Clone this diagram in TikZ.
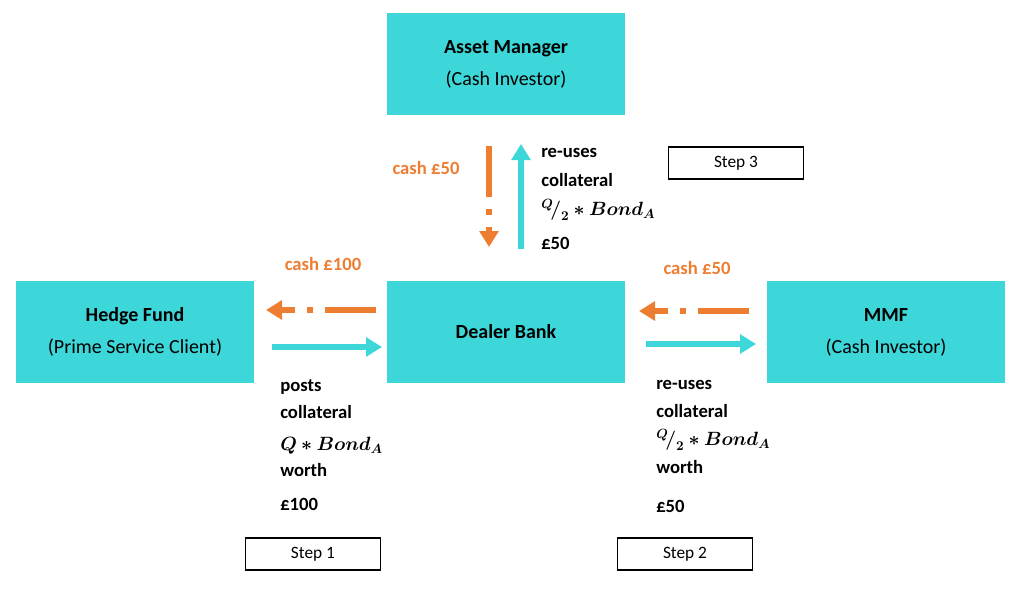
\documentclass[tikz,border=0pt]{standalone}
\usepackage{fontspec}
\setmainfont{Carlito}
\usepackage{amsmath,bm}
\usetikzlibrary{arrows.meta}
\definecolor{cyanbox}{HTML}{3DD6D9}
\definecolor{orng}{HTML}{ED7D31}
\tikzset{
box/.style={fill=cyanbox,minimum width=179pt,minimum height=77pt,align=center,font=\fontsize{15}{24}\selectfont},
stepbox/.style={draw,line width=0.9pt,minimum width=101pt,minimum height=24pt,font=\fontsize{13}{15}\selectfont},
lbl/.style={anchor=west,inner sep=0pt,font=\bfseries\fontsize{14}{16}\selectfont},
cash/.style={inner sep=0pt,text=orng,font=\bfseries\fontsize{14}{16}\selectfont},
pay/.style={draw=orng,line width=5pt,dash pattern=on 38pt off 9pt on 5pt off 9pt,-{Triangle[width=14pt,length=12pt]}},
give/.style={draw=cyanbox,line width=5pt,-{Triangle[width=14pt,length=12pt]}}}

\begin{document}
\begin{tikzpicture}[x=0.75pt,y=-0.75pt]
\useasboundingbox (0,0) rectangle (1024,589);
\node[box] (am) at (506,64) {\textbf{Asset Manager}\\(Cash Investor)};
\node[box] (hf) at (135,332) {\textbf{Hedge Fund}\\(Prime Service Client)};
\node[box] (db) at (506,332) {\textbf{Dealer Bank}};
\node[box] (mmf) at (886,332) {\textbf{MMF}\\(Cash Investor)};
\node[stepbox] (s3) at (736,163) {Step 3};
\node[stepbox] (s1) at (313,554) {Step 1};
\node[stepbox] (s2) at (685,554) {Step 2};
% arrows
\coordinate (a1) at (489,146); \coordinate (a2) at (489,247);
\coordinate (b1) at (521,249); \coordinate (b2) at (521,144);
\coordinate (c1) at (376,310); \coordinate (c2) at (266,310);
\coordinate (d1) at (272,347); \coordinate (d2) at (382,347);
\coordinate (e1) at (749,311); \coordinate (e2) at (639,311);
\coordinate (f1) at (646,344); \coordinate (f2) at (756,344);
\draw[pay] (a1) -- (a2);
\draw[give] (b1) -- (b2);
\draw[pay] (c1) -- (c2);
\draw[give] (d1) -- (d2);
\draw[pay] (e1) -- (e2);
\draw[give] (f1) -- (f2);
% labels
\node[cash] (k1) at (426,168) {cash £50};
\node[cash] (k2) at (323,264) {cash £100};
\node[cash] (k3) at (697,268) {cash £50};
\node[lbl] (t1) at (541,153) {re-uses};
\node[lbl] (t2) at (541,180) {collateral};
\node[lbl] (t3) at (541,210) {$\bm{{}^{Q}\!/_{2} * Bond_A}$};
\node[lbl] (t4) at (541,243) {£50};
\node[lbl] (u1) at (280,387) {posts};
\node[lbl] (u2) at (280,412) {collateral};
\node[lbl] (u3) at (280,446) {$\bm{Q * Bond_A}$};
\node[lbl] (u4) at (280,470) {worth};
\node[lbl] (u5) at (280,504) {£100};
\node[lbl] (v1) at (656,385) {re-uses};
\node[lbl] (v2) at (656,411) {collateral};
\node[lbl] (v3) at (656,440) {$\bm{{}^{Q}\!/_{2} * Bond_A}$};
\node[lbl] (v4) at (656,467) {worth};
\node[lbl] (v5) at (656,506) {£50};
\end{tikzpicture}
\end{document}
